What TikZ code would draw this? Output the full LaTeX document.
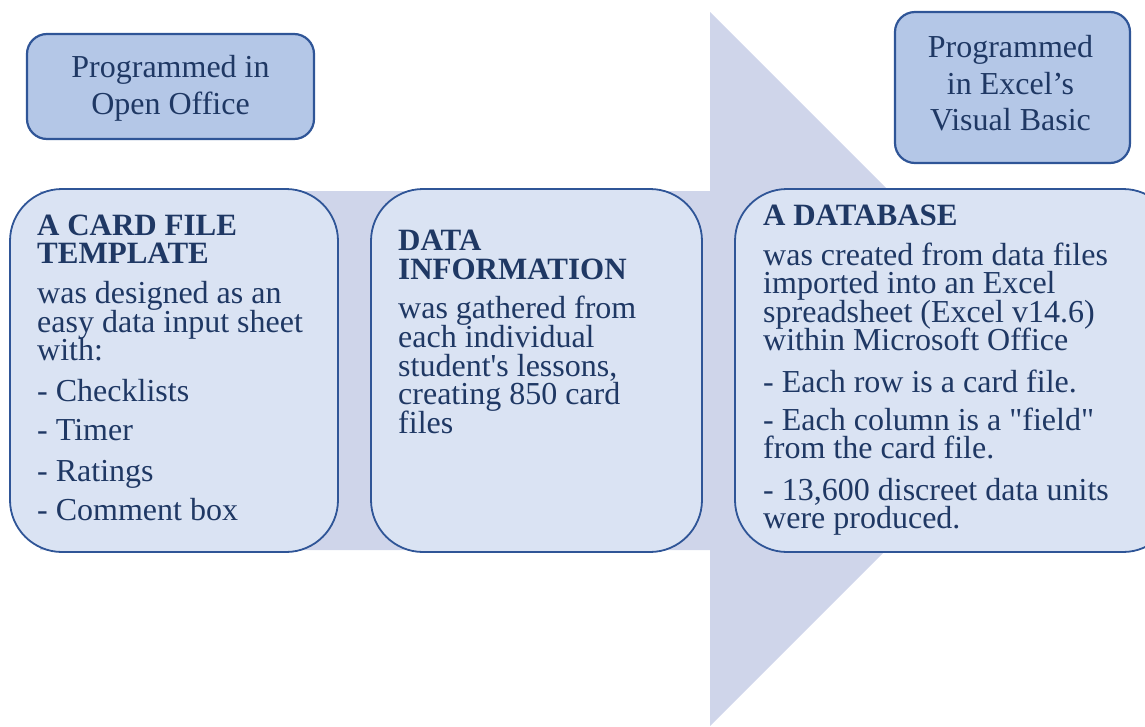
\documentclass[tikz,border=0pt]{standalone}
\usepackage{fontspec}
\setmainfont{Liberation Serif}[Ligatures=TeXOff]
\definecolor{arrowfill}{HTML}{CFD5EA}
\definecolor{topfill}{HTML}{B4C7E7}
\definecolor{cardfill}{HTML}{DAE3F3}
\definecolor{edge}{HTML}{2F5597}
\definecolor{ink}{HTML}{1F3864}
\begin{document}
\begin{tikzpicture}[x=1pt,y=-1pt,
  topbox/.style={draw=edge, line width=2.2pt, fill=topfill, rounded corners=20pt},
  toptext/.style={text=ink, align=center, inner sep=0pt,
    font=\fontsize{32}{36.5}\selectfont},
  cardbox/.style={draw=edge, line width=1.8pt, fill=cardfill, rounded corners=52pt},
  ln/.style={anchor=base west, inner sep=0pt, text=ink, font=\fontsize{32}{32}\selectfont},
  hd/.style={ln, font=\fontsize{31}{31}\selectfont\bfseries}]
\useasboundingbox (0,0) rectangle (1145,726);
% big arrow
\fill[arrowfill] (40,191) -- (710,191) -- (710,12) -- (1067,369) -- (710,726) -- (710,550) -- (40,550) -- cycle;
% top boxes
\node[topbox, minimum width=287pt, minimum height=105pt] (oo) at (170.5,86.5) {};
\node[toptext] (ootext) at ([yshift=-2pt]oo.center) {Programmed in\\Open Office};
\node[topbox, minimum width=235pt, minimum height=151pt] (vb) at (1012.5,87.5) {};
\node[toptext] (vbtext) at ([xshift=-2pt,yshift=4pt]vb.center) {Programmed\\in Excel’s\\Visual Basic};
% cards
\draw[cardbox] (10,189) rectangle (338,552);
\draw[cardbox] (371,189) rectangle (702,552);
\draw[cardbox] (735,189) rectangle (1175,552);
% card 1
\node[hd] (a1) at (37,235) {A CARD FILE};
\node[hd] (a2) at (37,263) {TEMPLATE};
\node[ln] (a3) at (37,303) {was designed as an};
\node[ln] (a4) at (37,332) {easy data input sheet};
\node[ln] (a5) at (37,360) {with:};
\node[ln] (a6) at (37,401) {- Checklists};
\node[ln] (a7) at (37,440) {- Timer};
\node[ln] (a8) at (37,481) {- Ratings};
\node[ln] (a9) at (37,520) {- Comment box};
% card 2
\node[hd] (b1) at (398,250) {DATA};
\node[hd] (b2) at (398,279) {INFORMATION};
\node[ln] (b3) at (398,318) {was gathered from};
\node[ln] (b4) at (398,347) {each individual};
\node[ln] (b5) at (398,376) {student's lessons,};
\node[ln] (b6) at (398,404) {creating 850 card};
\node[ln] (b7) at (398,433) {files};
% card 3
\node[hd] (c1) at (763,225) {A DATABASE};
\node[ln] (c2) at (763,265) {was created from data files};
\node[ln] (c3) at (763,293) {imported into an Excel};
\node[ln] (c4) at (763,322) {spreadsheet (Excel v14.6)};
\node[ln] (c5) at (763,350) {within Microsoft Office};
\node[ln] (c6) at (763,392) {- Each row is a card file.};
\node[ln] (c7) at (763,430) {- Each column is a "field"};
\node[ln] (c8) at (763,458) {from the card file.};
\node[ln] (c9) at (763,500) {- 13,600 discreet data units};
\node[ln] (c10) at (763,528) {were produced.};
\end{tikzpicture}
\end{document}
